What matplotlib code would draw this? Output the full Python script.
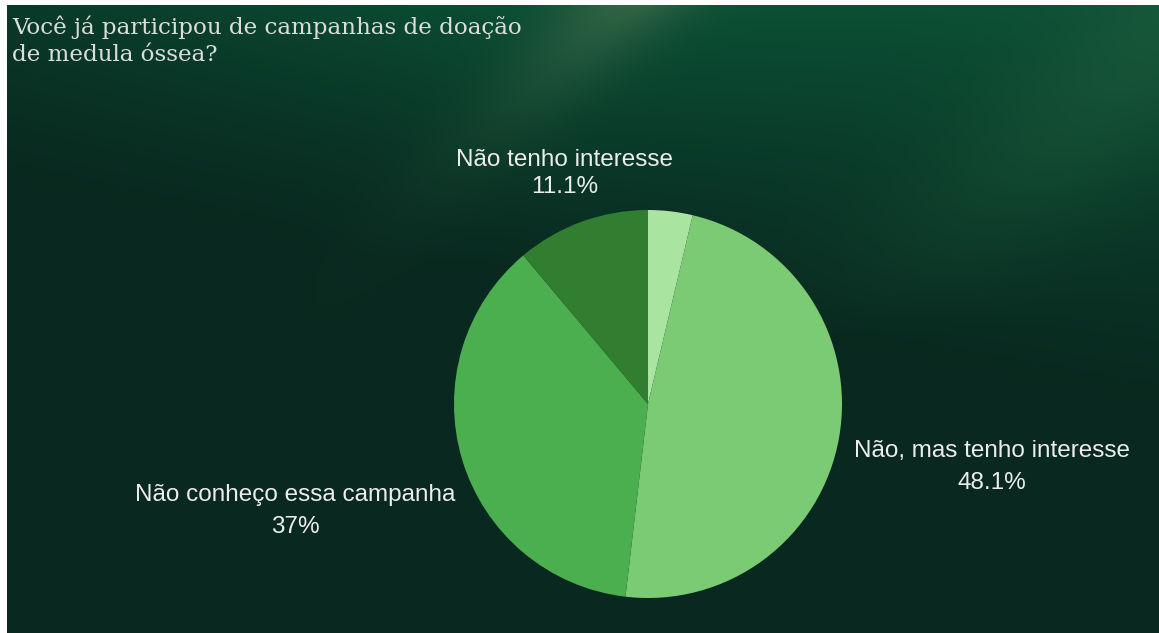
import numpy as np
import matplotlib.pyplot as plt

# survey answers
categories = ["Sim", "Não, mas tenho interesse", "Não conheço essa campanha", "Não tenho interesse"]
counts = [1, 13, 10, 3]
show_label = [False, True, True, True]
title_lines = ["Você já participou de campanhas de doação", "de medula óssea?"]

colors = ["#a9e5a1", "#7bcb75", "#4caf4f", "#327e31"]

W, H = 1159, 633

fig = plt.figure(figsize=(W / 100, H / 100), dpi=100, facecolor="white")
ax = fig.add_axes([0, 0, 1, 1])

# dark green backdrop, lit from the upper right with diagonal rays
bw, bh = W - 7, H - 5
yy, xx = np.mgrid[0:bh, 0:bw].astype(float)
dark = np.array([9, 40, 31]) / 255
mid = np.array([11, 80, 53]) / 255
olive = np.array([62, 104, 72]) / 255
light = np.array([30, 92, 60]) / 255
depth = 190 + 0.2 * xx
top = np.clip(1 - yy / depth, 0, 1) ** 1.3
top *= 0.45 + 0.55 * np.clip(xx / 550, 0, 1)
s = xx + yy
ray1 = 0.8 * np.exp(-((s - 620) / 65) ** 2) * np.exp(-yy / 80)
ray2 = 0.7 * np.exp(-((s - 1200) / 130) ** 2) * np.clip(1 - yy / 330, 0, 1)
bg = dark + top[..., None] * (mid - dark)
bg = bg + ray1[..., None] * (olive - bg)
bg = bg + ray2[..., None] * (light - bg)
ax.imshow(np.clip(bg, 0, 1), extent=(7, W, 0, H - 5), origin="upper", zorder=0)

cx, cy, r = 648, H - 404, 194
ax.pie(counts, colors=colors, startangle=90, counterclock=False,
       center=(cx, cy), radius=r, wedgeprops=dict(linewidth=0))

total = sum(counts)
label_pos = {1: (992, 451), 2: (295, 495), 3: (565, 160)}
line_gap = {1: 32, 2: 32, 3: 27}
for i, (name, n) in enumerate(zip(categories, counts)):
    if not show_label[i]:
        continue
    pct = f"{n / total * 100:.1f}".rstrip("0").rstrip(".") + "%"
    x, y = label_pos[i]
    ax.text(x, H - y, name, ha="center", va="center", color="#ececec",
            fontsize=17.5, family="Liberation Sans")
    ax.text(x, H - y - line_gap[i], pct, ha="center", va="center", color="#ececec",
            fontsize=17.5, family="Liberation Sans")

for k, line in enumerate(title_lines):
    ax.text(12, H - 34 - 27 * k, line, ha="left", va="baseline", color="#dcdcdc",
            fontsize=16.6, family="DejaVu Serif")

ax.set_xlim(0, W)
ax.set_ylim(0, H)
ax.set_aspect("auto")
ax.axis("off")

plt.savefig("out.png", dpi=100, facecolor="white")
